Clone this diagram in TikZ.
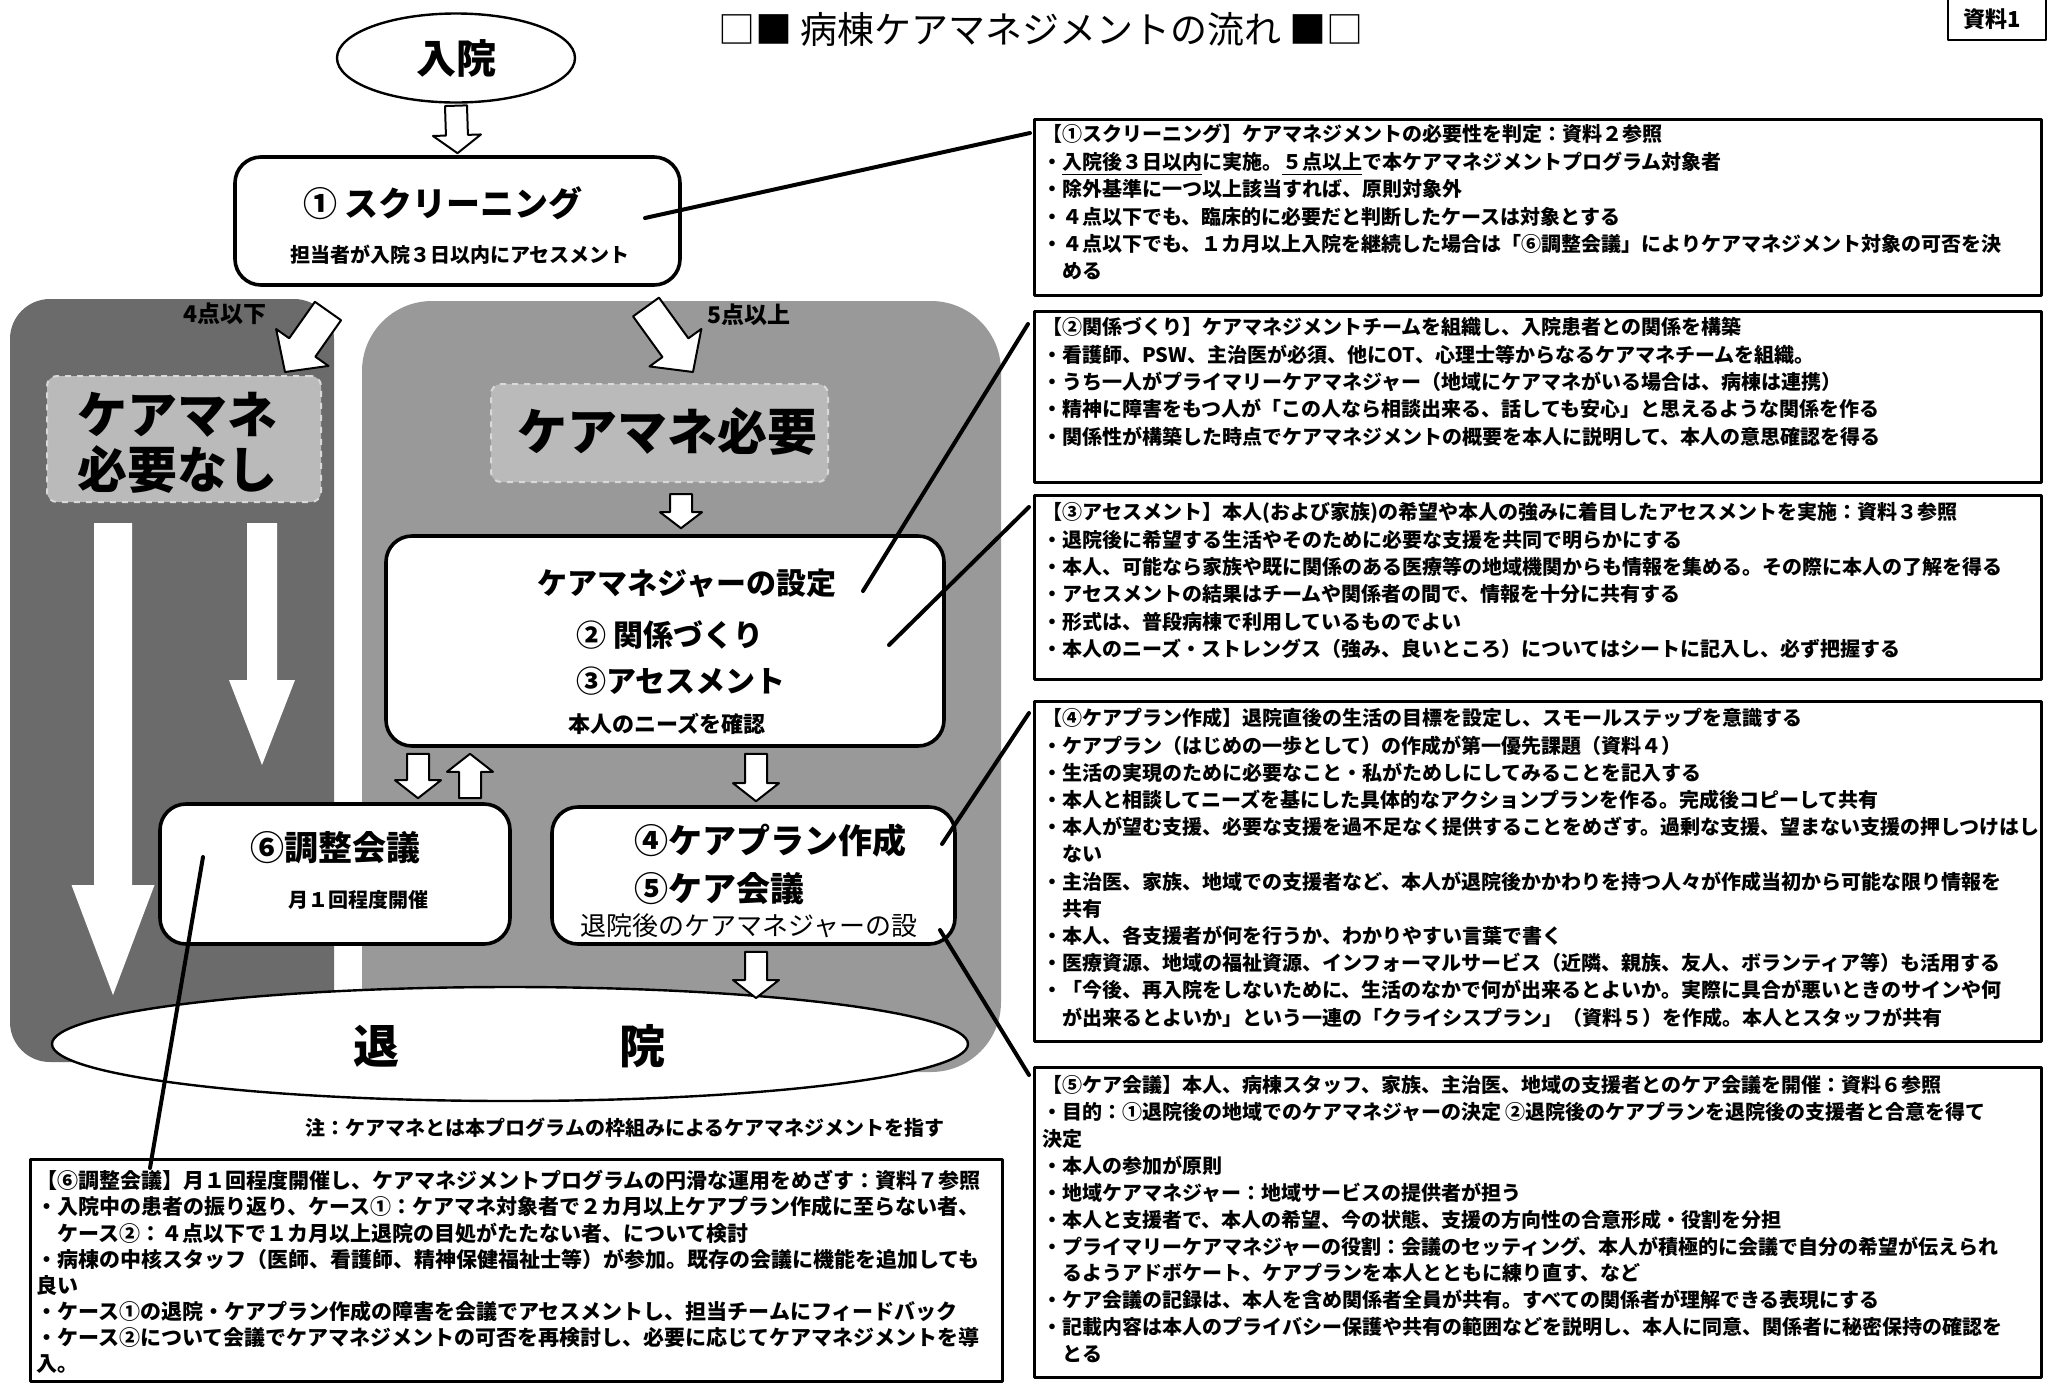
\documentclass[tikz,border=0pt]{standalone}
\usepackage{fontspec}
\setmainfont{Noto Sans CJK JP}
\usetikzlibrary{calc,shapes.geometric}

% block arrow: [style]{tail}{tip}{half shaft}{half head}{head length}
\newcommand{\blockarrow}[6][]{%
  \coordinate (ba-h) at ($(#3)!#6!(#2)$);
  \path[#1] ($(#2)!#4!90:(#3)$) -- ($(ba-h)!#4!-90:(#2)$) -- ($(ba-h)!#5!-90:(#2)$) -- (#3)
     -- ($(ba-h)!#5!90:(#2)$) -- ($(ba-h)!#4!90:(#2)$) -- ($(#2)!#4!-90:(#3)$) -- cycle;}

\tikzset{
  lpanel/.style={fill=black!58},
  rpanel/.style={fill=black!40},
  innerbox/.style={fill=black!27, draw=white!85!black, dashed, line width=1pt, rounded corners=5pt, inner sep=0pt, anchor=north west},
  rbox/.style={draw, line width=1.6pt, fill=white, inner sep=0pt, anchor=north west},
  rtext/.style={anchor=north west, inner sep=0pt, align=left, font=\fontsize{10pt}{13.7pt}\selectfont\bfseries},
  fbox/.style={draw, line width=1.8pt, fill=white, rounded corners=13pt, inner sep=0pt},
  conn/.style={line width=2pt, line cap=round},
  hollow/.style={draw=black, fill=white, line width=1pt},
  bigw/.style={fill=white},
  big/.style={font=\fontsize{17pt}{20pt}\selectfont\bfseries, inner sep=0pt},
  huge/.style={font=\fontsize{25pt}{27.5pt}\selectfont\bfseries, inner sep=0pt, align=center},
  small/.style={font=\fontsize{10pt}{12pt}\selectfont\bfseries, inner sep=0pt},
  score/.style={font=\fontsize{11.5pt}{13pt}\selectfont\bfseries, inner sep=0pt},
}

\begin{document}
\begin{tikzpicture}[x=0.5pt,y=-0.5pt,line join=round]
\useasboundingbox (0,0) rectangle (2051,1383);
\fill[white] (0,0) rectangle (2051,1383);

% ---------- title ----------
\node[font=\fontsize{18.5pt}{20pt}\selectfont, inner sep=0pt] (title) at (1041,29) {□■ 病棟ケアマネジメントの流れ ■□};
\node[draw, line width=1pt, minimum width=49pt, minimum height=20.5pt, anchor=north west, inner sep=0pt] (shiryo) at (1947,-2) {};
\node[font=\fontsize{11pt}{12pt}\selectfont\bfseries, inner sep=0pt] (shiryot) at (1992,19) {資料1};

% ---------- panels ----------
\fill[lpanel, rounded corners=20pt] (10,299) rectangle (334,1062);
\fill[rpanel, rounded corners=35pt] (362,301) rectangle (1001,1072);

% big white arrows
\coordinate (w1t) at (113,523); \coordinate (w1h) at (113,995);
\coordinate (w2t) at (262,523); \coordinate (w2h) at (262,765);
\blockarrow[bigw]{w1t}{w1h}{9.5pt}{20.75pt}{55pt}
\blockarrow[bigw]{w2t}{w2h}{7.5pt}{16.5pt}{42.5pt}

% inner labels
\node[innerbox, minimum width=137pt, minimum height=63pt] (nn) at (46,375) {};
\node[huge] (nntext) at (177,443) {ケアマネ\\必要なし};
\node[innerbox, minimum width=168.5pt, minimum height=49pt] (nr) at (490,383) {};
\node[huge] (nrtext) at (667,432) {ケアマネ必要};

% ---------- flow nodes ----------
\node[draw, ellipse, line width=1.2pt, fill=white, minimum width=119pt, minimum height=44.5pt, inner sep=0pt] (nyuin) at (456,58) {};
\node[font=\fontsize{20pt}{22pt}\selectfont\bfseries, inner sep=0pt] (nyuint) at (456,58) {入院};

\node[fbox, minimum width=222.5pt, minimum height=64pt] (scr) at (457.5,221) {};
\node[big] (scrt) at (443,203) {① スクリーニング};
\node[small] (scrs) at (460,255) {担当者が入院３日以内にアセスメント};

\node[score] (le4) at (225,314) {4点以下};
\node[score] (ge5) at (749,315) {5点以上};
\coordinate (d1t) at (328,311); \coordinate (d1h) at (285,372);
\coordinate (d2t) at (646,307); \coordinate (d2h) at (693,372);
\blockarrow[hollow]{d1t}{d1h}{8pt}{16pt}{15pt}
\blockarrow[hollow]{d2t}{d2h}{8pt}{16pt}{15pt}

\node[fbox, minimum width=279pt, minimum height=105pt] (set) at (665,641) {};
\node[font=\fontsize{15pt}{17pt}\selectfont\bfseries, inner sep=0pt] (sett1) at (687,583) {ケアマネジャーの設定};
\node[font=\fontsize{15pt}{17pt}\selectfont\bfseries, inner sep=0pt, anchor=west] (sett2) at (576,635) {② 関係づくり};
\node[font=\fontsize{15pt}{17pt}\selectfont\bfseries, inner sep=0pt, anchor=west] (sett3) at (576,681) {③アセスメント};
\node[font=\fontsize{11pt}{12pt}\selectfont\bfseries, inner sep=0pt] (sett4) at (667,724) {本人のニーズを確認};

\node[fbox, minimum width=175pt, minimum height=70pt] (chosei) at (335,874) {};
\node[big] (choseit) at (335,848) {⑥調整会議};
\node[small] (choseis) at (358,900) {月１回程度開催};

\node[fbox, minimum width=201.5pt, minimum height=68.5pt] (plan) at (753.5,875.5) {};
\node[big, anchor=west] (plant1) at (634,841) {④ケアプラン作成};
\node[big, anchor=west] (plant2) at (634,889) {⑤ケア会議};
\node[font=\fontsize{13pt}{15pt}\selectfont, inner sep=0pt, anchor=west] (plant3) at (580,926) {退院後のケアマネジャーの設};

% hollow arrows
\coordinate (a0t) at ($(nyuin.south)+(0,2)$); \coordinate (a0h) at ($(scr.north)+(0,-2)$);
\blockarrow[hollow]{a0t}{a0h}{5.5pt}{12pt}{9pt}
\coordinate (a1t) at (681,494); \coordinate (a1h) at ($(set.north)+(16,-6)$);
\blockarrow[hollow]{a1t}{a1h}{5.5pt}{10.5pt}{8pt}
\coordinate (a2t) at ($(set.south)+(-247,6)$); \coordinate (a2h) at ($(chosei.north)+(83,-4)$);
\blockarrow[hollow]{a2t}{a2h}{5.5pt}{11.5pt}{9pt}
\coordinate (a3t) at ($(chosei.north)+(135,-4)$); \coordinate (a3h) at ($(set.south)+(-195,6)$);
\blockarrow[hollow]{a3t}{a3h}{5.5pt}{11.5pt}{9pt}
\coordinate (a4t) at ($(set.south)+(91,6)$); \coordinate (a4h) at ($(plan.north)+(2.5,-4)$);
\blockarrow[hollow]{a4t}{a4h}{5.5pt}{11.5pt}{9pt}

% discharge
\node[draw, ellipse, line width=1.2pt, fill=white, minimum width=458pt, minimum height=57pt, inner sep=0pt] (taiin) at (510,1044) {};
\node[font=\fontsize{23pt}{25pt}\selectfont\bfseries, inner sep=0pt] (taiint) at (509,1046) {退\hspace{110pt}院};
\coordinate (a5t) at ($(plan.south)+(2.5,6)$); \coordinate (a5h) at (756,998);
\blockarrow[hollow]{a5t}{a5h}{5.5pt}{11.5pt}{9pt}

\node[font=\fontsize{10pt}{12pt}\selectfont\bfseries, inner sep=0pt] (note) at (625,1128) {注：ケアマネとは本プログラムの枠組みによるケアマネジメントを指す};

% ---------- right boxes ----------
\node[rbox, minimum width=503.5pt, minimum height=88pt] (b1) at (1033,118) {};
\node[rtext] (b1t) at (1042,124) {【①スクリーニング】ケアマネジメントの必要性を判定：資料２参照\\
・\underline{入院後３日以内}に実施。\underline{５点以上}で本ケアマネジメントプログラム対象者\\
・除外基準に一つ以上該当すれば、原則対象外\\
・４点以下でも、臨床的に必要だと判断したケースは対象とする\\
・４点以下でも、１カ月以上入院を継続した場合は「⑥調整会議」によりケアマネジメント対象の可否を決\\
\hspace*{1em}める};

\node[rbox, minimum width=503.5pt, minimum height=85.5pt] (b2) at (1033,310) {};
\node[rtext] (b2t) at (1042,317) {【②関係づくり】ケアマネジメントチームを組織し、入院患者との関係を構築\\
・看護師、PSW、主治医が必須、他にOT、心理士等からなるケアマネチームを組織。\\
・うち一人がプライマリーケアマネジャー（地域にケアマネがいる場合は、病棟は連携）\\
・精神に障害をもつ人が「この人なら相談出来る、話しても安心」と思えるような関係を作る\\
・関係性が構築した時点でケアマネジメントの概要を本人に説明して、本人の意思確認を得る};

\node[rbox, minimum width=503.5pt, minimum height=92pt] (b3) at (1033,494) {};
\node[rtext] (b3t) at (1042,502) {【③アセスメント】本人(および家族)の希望や本人の強みに着目したアセスメントを実施：資料３参照\\
・退院後に希望する生活やそのために必要な支援を共同で明らかにする\\
・本人、可能なら家族や既に関係のある医療等の地域機関からも情報を集める。その際に本人の了解を得る\\
・アセスメントの結果はチームや関係者の間で、情報を十分に共有する\\
・形式は、普段病棟で利用しているものでよい\\
・本人のニーズ・ストレングス（強み、良いところ）についてはシートに記入し、必ず把握する};

\node[rbox, minimum width=503.5pt, minimum height=170pt] (b4) at (1033,700) {};
\node[rtext, font=\fontsize{10pt}{13.6pt}\selectfont\bfseries] (b4t) at (1042,708) {【④ケアプラン作成】退院直後の生活の目標を設定し、スモールステップを意識する\\
・ケアプラン（はじめの一歩として）の作成が第一優先課題（資料４）\\
・生活の実現のために必要なこと・私がためしにしてみることを記入する\\
・本人と相談してニーズを基にした具体的なアクションプランを作る。完成後コピーして共有\\
・本人が望む支援、必要な支援を過不足なく提供することをめざす。過剰な支援、望まない支援の押しつけはし\\
\hspace*{1em}ない\\
・主治医、家族、地域での支援者など、本人が退院後かかわりを持つ人々が作成当初から可能な限り情報を\\
\hspace*{1em}共有\\
・本人、各支援者が何を行うか、わかりやすい言葉で書く\\
・医療資源、地域の福祉資源、インフォーマルサービス（近隣、親族、友人、ボランティア等）も活用する\\
・「今後、再入院をしないために、生活のなかで何が出来るとよいか。実際に具合が悪いときのサインや何\\
\hspace*{1em}が出来るとよいか」という一連の「クライシスプラン」（資料５）を作成。本人とスタッフが共有};

\node[rbox, minimum width=503.5pt, minimum height=155pt] (b5) at (1033,1066) {};
\node[rtext, font=\fontsize{10pt}{13.45pt}\selectfont\bfseries] (b5t) at (1042,1075) {【⑤ケア会議】本人、病棟スタッフ、家族、主治医、地域の支援者とのケア会議を開催：資料６参照\\
・目的：①退院後の地域でのケアマネジャーの決定 ②退院後のケアプランを退院後の支援者と合意を得て\\
決定\\
・本人の参加が原則\\
・地域ケアマネジャー：地域サービスの提供者が担う\\
・本人と支援者で、本人の希望、今の状態、支援の方向性の合意形成・役割を分担\\
・プライマリーケアマネジャーの役割：会議のセッティング、本人が積極的に会議で自分の希望が伝えられ\\
\hspace*{1em}るようアドボケート、ケアプランを本人とともに練り直す、など\\
・ケア会議の記録は、本人を含め関係者全員が共有。すべての関係者が理解できる表現にする\\
・記載内容は本人のプライバシー保護や共有の範囲などを説明し、本人に同意、関係者に秘密保持の確認を\\
\hspace*{1em}とる};

\node[rbox, minimum width=486pt, minimum height=111pt] (b6) at (29,1158) {};
\node[rtext, font=\fontsize{10.5pt}{13.07pt}\selectfont\bfseries] (b6t) at (36,1170) {【⑥調整会議】月１回程度開催し、ケアマネジメントプログラムの円滑な運用をめざす：資料７参照\\
・入院中の患者の振り返り、ケース①：ケアマネ対象者で２カ月以上ケアプラン作成に至らない者、\\
\hspace*{1em}ケース②：４点以下で１カ月以上退院の目処がたたない者、について検討\\
・病棟の中核スタッフ（医師、看護師、精神保健福祉士等）が参加。既存の会議に機能を追加しても\\
良い\\
・ケース①の退院・ケアプラン作成の障害を会議でアセスメントし、担当チームにフィードバック\\
・ケース②について会議でケアマネジメントの可否を再検討し、必要に応じてケアマネジメントを導\\
入。};

% ---------- connectors ----------
\draw[conn] ($(scr.center)+(187.5,-3)$) -- ($(b1.north west)+(-3,15)$);
\draw[conn] ($(set.center)+(198,-50)$) -- ($(b2.north west)+(-5,14)$);
\draw[conn] ($(set.center)+(224,4)$) -- ($(b3.north west)+(-4,13)$);
\draw[conn] ($(plan.center)+(188.5,-31.5)$) -- ($(b4.north west)+(-4,13)$);
\draw[conn] ($(plan.center)+(186.5,54.5)$) -- ($(b5.north west)+(-4,9)$);
\draw[conn] ($(chosei.center)+(-132,-17)$) -- ($(b6.north west)+(121,10)$);
\end{tikzpicture}
\end{document}
